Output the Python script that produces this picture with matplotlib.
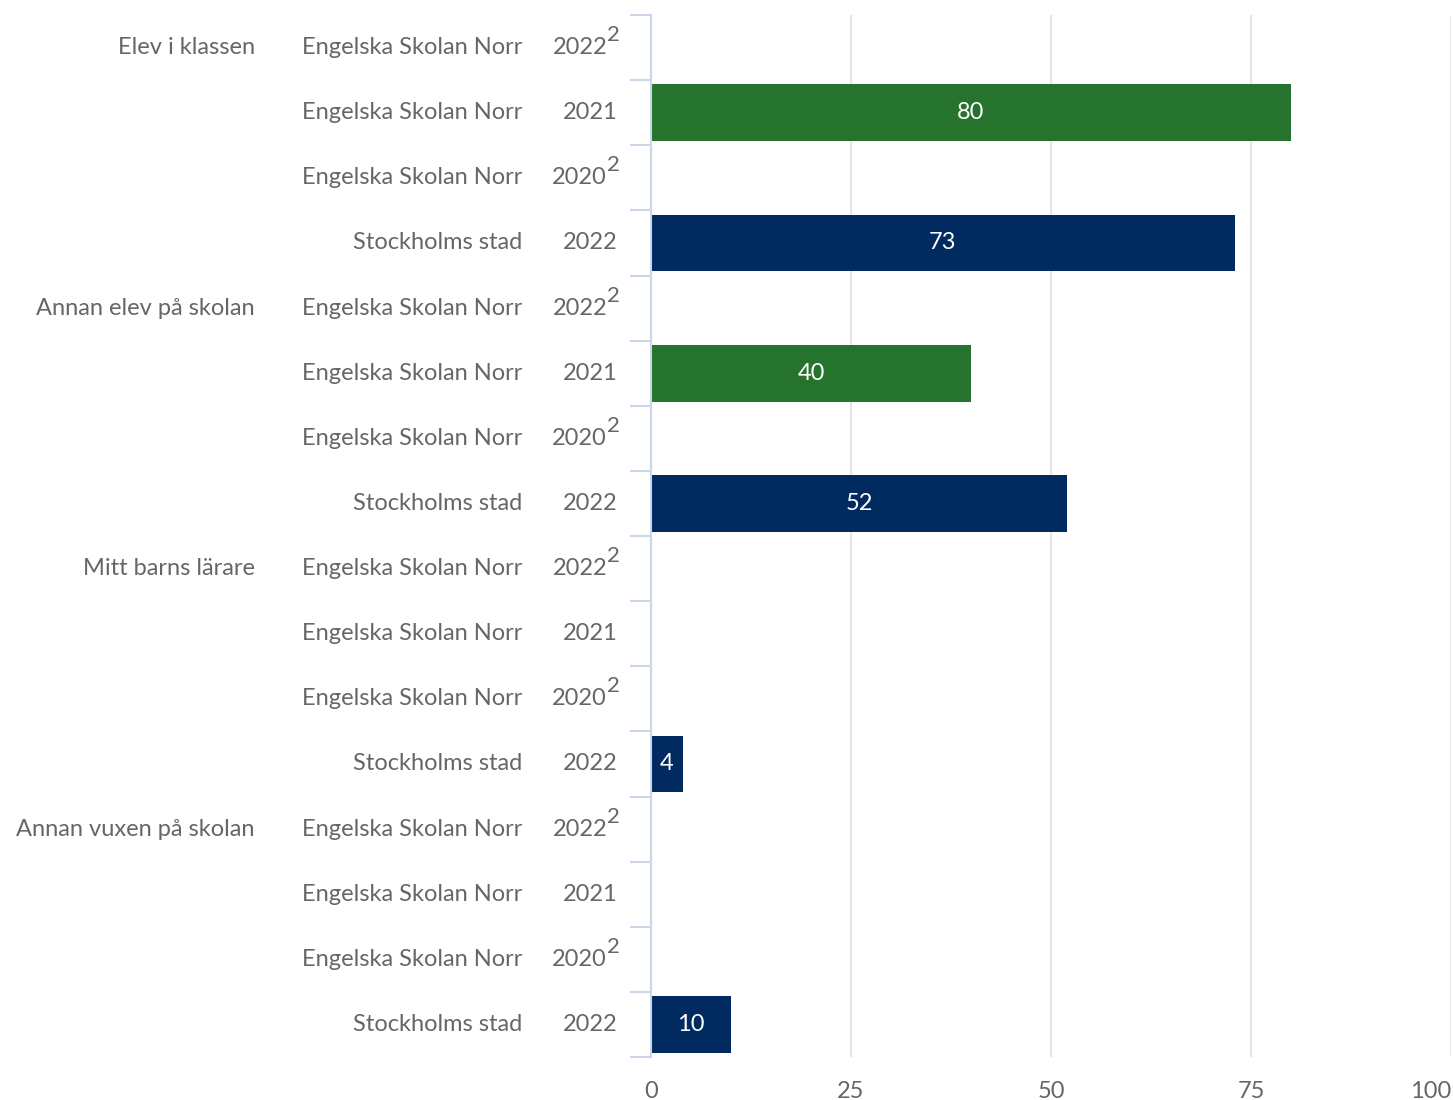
import matplotlib.pyplot as plt
import matplotlib.transforms as mtransforms
import numpy as np

plt.rcParams['font.family'] = ['Lato', 'DejaVu Sans']

# data, rows top to bottom
groups = ["Elev i klassen", "Annan elev på skolan", "Mitt barns lärare", "Annan vuxen på skolan"]
units = ["Engelska Skolan Norr", "Engelska Skolan Norr", "Engelska Skolan Norr", "Stockholms stad"]
years = ["2022", "2021", "2020", "2022"]
footnote = [True, False, True, False]
series = ["esn", "esn", "esn", "sthlm"]
values = [
    [None, 80, None, 73],
    [None, 40, None, 52],
    [None, None, None, 4],
    [None, None, None, 10],
]

colors = {"esn": "#26732e", "sthlm": "#002a60"}
grey = "#666666"
tickcol = "#ccd6eb"

fig = plt.figure(figsize=(14.53, 11), dpi=100)
ax = fig.add_axes([651 / 1453, 1 - 1057 / 1100, 800 / 1453, (1057 - 15) / 1100])

trans = mtransforms.blended_transform_factory(fig.transFigure, ax.transData)
fs = 17

row = 0
for g, grp in enumerate(groups):
    for k in range(len(units)):
        v = values[g][k]
        if v is not None:
            ax.barh(row, v, height=0.87, color=colors[series[k]], zorder=3)
            ax.text(v / 2, row, str(v), color="white", ha="center", va="center",
                    fontsize=fs, zorder=4)
        if k == 0:
            ax.text(255 / 1453, row, grp, transform=trans, ha="right", va="center",
                    fontsize=fs, color=grey)
        ax.text(522 / 1453, row, units[k], transform=trans, ha="right", va="center",
                fontsize=fs, color=grey)
        if footnote[k]:
            ax.text(607 / 1453, row, years[k], transform=trans, ha="right", va="center",
                    fontsize=fs, color=grey)
            sup = mtransforms.offset_copy(trans, fig=fig, x=0, y=9, units="points")
            ax.text(607 / 1453, row, "2", transform=sup, ha="left", va="center",
                    fontsize=fs - 1, color=grey)
        else:
            ax.text(618 / 1453, row, years[k], transform=trans, ha="right", va="center",
                    fontsize=fs, color=grey)
        row += 1

nrows = row
ax.set_xlim(0, 100)
ax.set_ylim(nrows - 0.5, -0.5)
ax.set_xticks([0, 25, 50, 75, 100])
ax.set_yticks(np.arange(nrows + 1) - 0.5)
ax.set_yticklabels([])
ax.tick_params(axis="y", length=15, width=1.5, color=tickcol)
ax.tick_params(axis="x", length=0, pad=17, labelsize=fs, labelcolor=grey)
ax.get_xticklabels()[-1].set_ha("right")
ax.grid(axis="x", color="#e6e6e6", linewidth=1.5, zorder=0)
for s in ["top", "right", "bottom"]:
    ax.spines[s].set_visible(False)
ax.spines["left"].set_color(tickcol)
ax.spines["left"].set_linewidth(1.5)
ax.spines["left"].set_zorder(5)

fig.savefig("out.png", dpi=100)
